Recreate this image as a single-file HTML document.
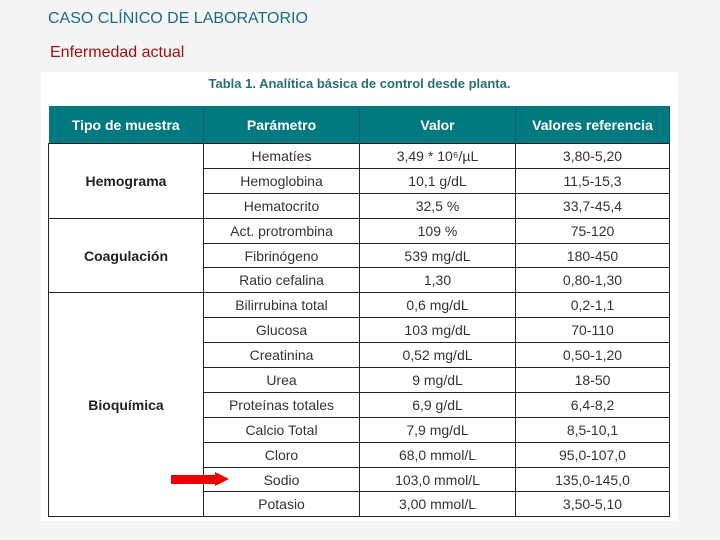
<!DOCTYPE html>
<html><head><meta charset="utf-8"><style>
body{margin:0;width:720px;height:540px;background:#f4f4f4;position:relative;overflow:hidden;font-family:"Liberation Sans",sans-serif}
.t1{position:absolute;left:48px;top:10px;font-size:16px;color:#1a6a8e}
.t2{position:absolute;left:50px;top:44px;font-size:16px;color:#a01010}
.panel{position:absolute;left:41px;top:72px;width:637px;height:449px;background:#fff}
.cap{position:absolute;left:41px;top:76px;width:637px;text-align:center;font-size:13px;font-weight:bold;color:#2a6f78}
table{position:absolute;left:48px;top:106px;border-collapse:collapse;width:621px;table-layout:fixed}
th{background:#007a80;color:#fff;height:37px;font-size:14px;border-right:1px solid #0a5e62;padding:0}
td{height:23.9px;border:1px solid #222;text-align:center;font-size:14px;color:#333;padding:0}
td.g{font-weight:bold;color:#222}
.arrow{position:absolute;left:171px;top:475px;width:46px;height:9px;background:#e00}
.ah{position:absolute;left:215px;top:472px;width:0;height:0;border-top:7.5px solid transparent;border-bottom:7.5px solid transparent;border-left:14px solid #e00}
</style></head><body>
<div class="t1">CASO CLÍNICO DE LABORATORIO</div>
<div class="t2">Enfermedad actual</div>
<div class="panel"></div>
<div class="cap">Tabla 1. Analítica básica de control desde planta.</div>
<table>
<colgroup><col style="width:155px"><col style="width:156px"><col style="width:156px"><col style="width:154px"></colgroup>
<tr><th>Tipo de muestra</th><th>Parámetro</th><th>Valor</th><th>Valores referencia</th></tr>
<tr><td class="g" rowspan="3">Hemograma</td><td>Hematíes</td><td>3,49 * 10⁶/µL</td><td>3,80-5,20</td></tr>
<tr><td>Hemoglobina</td><td>10,1 g/dL</td><td>11,5-15,3</td></tr>
<tr><td>Hematocrito</td><td>32,5 %</td><td>33,7-45,4</td></tr>
<tr><td class="g" rowspan="3">Coagulación</td><td>Act. protrombina</td><td>109 %</td><td>75-120</td></tr>
<tr><td>Fibrinógeno</td><td>539 mg/dL</td><td>180-450</td></tr>
<tr><td>Ratio cefalina</td><td>1,30</td><td>0,80-1,30</td></tr>
<tr><td class="g" rowspan="9">Bioquímica</td><td>Bilirrubina total</td><td>0,6 mg/dL</td><td>0,2-1,1</td></tr>
<tr><td>Glucosa</td><td>103 mg/dL</td><td>70-110</td></tr>
<tr><td>Creatinina</td><td>0,52 mg/dL</td><td>0,50-1,20</td></tr>
<tr><td>Urea</td><td>9 mg/dL</td><td>18-50</td></tr>
<tr><td>Proteínas totales</td><td>6,9 g/dL</td><td>6,4-8,2</td></tr>
<tr><td>Calcio Total</td><td>7,9 mg/dL</td><td>8,5-10,1</td></tr>
<tr><td>Cloro</td><td>68,0 mmol/L</td><td>95,0-107,0</td></tr>
<tr><td>Sodio</td><td>103,0 mmol/L</td><td>135,0-145,0</td></tr>
<tr><td>Potasio</td><td>3,00 mmol/L</td><td>3,50-5,10</td></tr>
</table>
<div class="arrow"></div>
<div class="ah"></div>
</body></html>
